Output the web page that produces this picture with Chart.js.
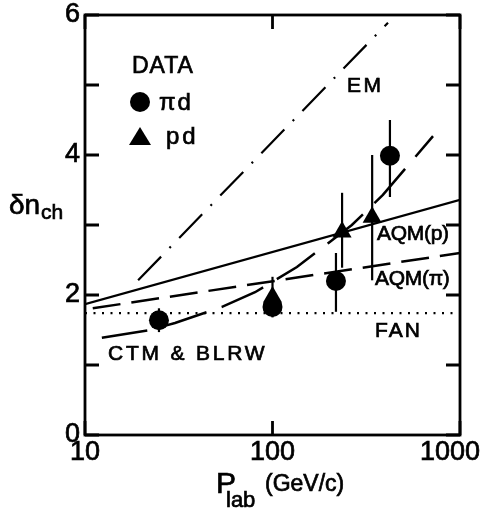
<!DOCTYPE html>
<html>
<head>
<meta charset="utf-8">
<script src="https://cdn.jsdelivr.net/npm/chart.js@4"></script>
<style>
  html, body { margin: 0; padding: 0; background: #fff; }
  #wrap { width: 484px; height: 510px; position: relative; }
</style>
</head>
<body>
<div id="wrap"><canvas id="chart"></canvas></div>
<script>
// pi-d data (momentum GeV/c, value, error range)
const piMom = [24.8, 100, 218, 423];
const piVal = [1.64, 1.83, 2.2, 3.99];
const piLo = [1.47, 1.68, 1.76, 3.4];
const piHi = [1.81, 1.97, 2.6, 4.5];

// p-d data
const pdMom = [100, 235, 340];
const pdVal = [1.97, 2.9, 3.11];
const pdLo = [1.8, 2.39, 2.21];
const pdHi = [2.26, 3.46, 4.0];

// model curves
const emMom = [19.2, 413];
const emVal = [2.21, 5.89];
const aqmpMom = [10, 1000];
const aqmpVal = [1.87, 3.36];
const aqmpiMom = [11, 1000];
const aqmpiVal = [1.81, 2.6];
const fanMom = [10, 1000];
const fanVal = [1.74, 1.74];
const ctmMom = [12.3, 22.2, 30.2, 53.8, 80.7, 100, 135, 198, 265, 388, 718];
const ctmVal = [1.39, 1.5, 1.6, 1.83, 2.04, 2.19, 2.4, 2.74, 3.0, 3.43, 4.27];

// axes
const xTicks = [10, 100, 1000];
const xTickLabels = ['10', '100', '1000'];
const yTicks = [0, 1, 2, 3, 4, 5, 6];
const yTickLabels = ['0', '', '2', '', '4', '', '6'];

const FONT = '"Liberation Sans", Arial, sans-serif';

// text notes on the plot
const notes = [
  { text: 'DATA', x: 132, y: 67, size: 23, sp: 1 },
  { text: 'πd', x: 159, y: 103, size: 24, sp: 2 },
  { text: 'pd', x: 166, y: 137, size: 24, sp: 3 },
  { text: 'EM', x: 347, y: 86, size: 21, sp: 2.5 },
  { text: 'AQM(p)', x: 377, y: 234, size: 21, sp: -0.3 },
  { text: 'AQM(π)', x: 375, y: 279, size: 21, sp: -0.3 },
  { text: 'FAN', x: 375, y: 331, size: 21, sp: 2 },
  { text: 'CTM & BLRW', x: 108, y: 354, size: 21, sp: 2.8 }
];

const toPts = (xs, ys) => xs.map((v, i) => ({ x: v, y: ys[i] }));

function lineSet(xs, ys, dash, width) {
  return {
    data: toPts(xs, ys),
    showLine: true,
    borderColor: '#000',
    borderWidth: width,
    borderDash: dash,
    pointRadius: 0,
    fill: false
  };
}

// text with a thin outline so it looks as heavy as the scanned lettering
function txt(ctx, s, x, y, size, sp, align, base) {
  ctx.font = size + 'px ' + FONT;
  ctx.letterSpacing = (sp || 0) + 'px';
  ctx.textAlign = align || 'left';
  ctx.textBaseline = base || 'middle';
  ctx.lineWidth = 0.7;
  ctx.fillText(s, x, y);
  ctx.strokeText(s, x, y);
}

const decor = {
  id: 'decor',
  beforeDatasetsDraw(chart) {
    const { ctx, scales: { x, y } } = chart;
    ctx.save();
    ctx.strokeStyle = '#000';
    ctx.lineWidth = 2.2;
    const bars = (mom, lo, hi) => mom.forEach((m, i) => {
      const px = x.getPixelForValue(m);
      ctx.beginPath();
      ctx.moveTo(px, y.getPixelForValue(lo[i]));
      ctx.lineTo(px, y.getPixelForValue(hi[i]));
      ctx.stroke();
    });
    bars(piMom, piLo, piHi);
    bars(pdMom, pdLo, pdHi);
    ctx.restore();
  },
  afterDraw(chart) {
    const { ctx, chartArea: a, scales: { x, y } } = chart;
    ctx.save();
    ctx.strokeStyle = '#000';
    ctx.fillStyle = '#000';
    ctx.lineWidth = 2.8;
    ctx.strokeRect(a.left, a.top, a.right - a.left, a.bottom - a.top);

    // inward ticks
    yTicks.forEach((v, i) => {
      const py = y.getPixelForValue(v);
      ctx.lineWidth = 2.8;
      ctx.beginPath();
      ctx.moveTo(a.left, py); ctx.lineTo(a.left + 14, py);
      ctx.moveTo(a.right, py); ctx.lineTo(a.right - 14, py);
      ctx.stroke();
      if (yTickLabels[i]) txt(ctx, yTickLabels[i], a.left - 5, py, 27, 0, 'right');
    });
    xTicks.forEach((v, i) => {
      const px = x.getPixelForValue(v);
      ctx.lineWidth = 2.8;
      ctx.beginPath();
      ctx.moveTo(px, a.bottom); ctx.lineTo(px, a.bottom - 14);
      ctx.moveTo(px, a.top); ctx.lineTo(px, a.top + 14);
      ctx.stroke();
      ctx.font = '27px ' + FONT;
      ctx.letterSpacing = '0px';
      const w = ctx.measureText(xTickLabels[i]).width;
      const cx = Math.min(px, chart.width - w / 2 - 4);
      txt(ctx, xTickLabels[i], cx, a.bottom + 18, 27, 0, 'center');
    });

    // axis titles
    txt(ctx, 'δn', 9, 214, 28, 0, 'left', 'alphabetic');
    txt(ctx, 'ch', 41, 219, 21, 0, 'left', 'alphabetic');
    txt(ctx, 'P', 216, 493, 30, 0, 'left', 'alphabetic');
    txt(ctx, 'lab', 226, 507, 22, 0, 'left', 'alphabetic');
    txt(ctx, '(GeV/c)', 265, 491, 23, 0, 'left', 'alphabetic');

    // notes
    notes.forEach(n => txt(ctx, n.text, n.x, n.y, n.size, n.sp));

    // legend symbols
    ctx.beginPath();
    ctx.arc(140, 102, 10, 0, Math.PI * 2);
    ctx.fill();
    ctx.beginPath();
    ctx.moveTo(140, 127); ctx.lineTo(151, 145); ctx.lineTo(129, 145);
    ctx.closePath();
    ctx.fill();
    ctx.restore();
  }
};

new Chart(document.getElementById('chart'), {
  type: 'scatter',
  data: {
    datasets: [
      lineSet(emMom, emVal, [33, 12, 2, 12], 2.2),
      lineSet(aqmpMom, aqmpVal, [], 2.2),
      lineSet(aqmpiMom, aqmpiVal, [28, 11], 2.5),
      lineSet(fanMom, fanVal, [2, 6.5], 2.2),
      lineSet(ctmMom, ctmVal, [46, 16], 2.5),
      {
        data: toPts(piMom, piVal),
        pointStyle: 'circle',
        pointRadius: 10,
        backgroundColor: '#000',
        borderColor: '#000',
        borderWidth: 0,
        showLine: false
      },
      {
        data: toPts(pdMom, pdVal),
        pointStyle: 'triangle',
        pointRadius: 11,
        backgroundColor: '#000',
        borderColor: '#000',
        borderWidth: 0,
        showLine: false
      }
    ]
  },
  options: {
    responsive: true,
    maintainAspectRatio: false,
    animation: false,
    layout: { padding: { left: 85, right: 24, top: 15, bottom: 75 } },
    plugins: { legend: { display: false }, tooltip: { enabled: false } },
    scales: {
      x: { type: 'logarithmic', min: 10, max: 1000, display: false },
      y: { type: 'linear', min: 0, max: 6, display: false }
    }
  },
  plugins: [decor]
});
</script>
</body>
</html>
